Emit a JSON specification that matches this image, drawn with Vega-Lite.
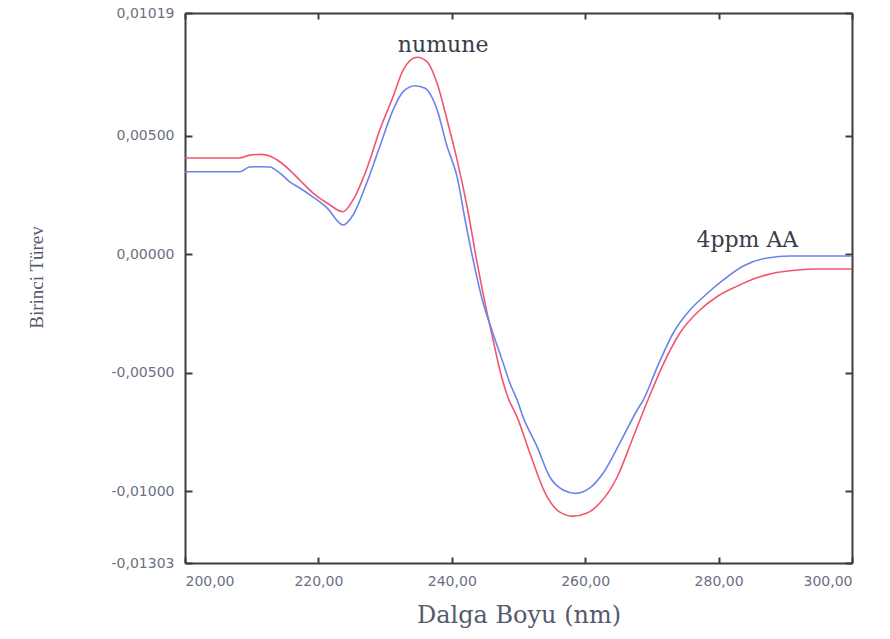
{
  "$schema": "https://vega.github.io/schema/vega-lite/v6.json",
  "width": 667,
  "height": 550,
  "autosize": {"type": "none"},
  "padding": {"left": 185, "top": 13, "right": 38, "bottom": 76},
  "background": "white",
  "config": {
    "view": {"stroke": null},
    "axis": {
      "grid": false,
      "domainColor": "#3d3d3d",
      "domainWidth": 2,
      "tickColor": "#3d3d3d",
      "tickWidth": 2,
      "labelFont": "DejaVu Sans",
      "labelFontSize": 14,
      "labelColor": "#6b7082",
      "titleFont": "DejaVu Serif",
      "titleFontWeight": "normal",
      "titleColor": "#555a6c"
    }
  },
  "datasets": {
    "spectra": [
      {"nm": 200.0, "deriv": 0.00407, "sample": "numune"},
      {"nm": 208.2, "deriv": 0.00407, "sample": "numune"},
      {"nm": 209.7, "deriv": 0.00419, "sample": "numune"},
      {"nm": 211.5, "deriv": 0.00422, "sample": "numune"},
      {"nm": 212.7, "deriv": 0.00415, "sample": "numune"},
      {"nm": 214.2, "deriv": 0.00391, "sample": "numune"},
      {"nm": 215.7, "deriv": 0.00356, "sample": "numune"},
      {"nm": 217.2, "deriv": 0.00314, "sample": "numune"},
      {"nm": 219.2, "deriv": 0.00259, "sample": "numune"},
      {"nm": 221.3, "deriv": 0.00217, "sample": "numune"},
      {"nm": 223.7, "deriv": 0.0018, "sample": "numune"},
      {"nm": 225.2, "deriv": 0.0023, "sample": "numune"},
      {"nm": 227.3, "deriv": 0.00365, "sample": "numune"},
      {"nm": 229.2, "deriv": 0.00525, "sample": "numune"},
      {"nm": 231.2, "deriv": 0.00666, "sample": "numune"},
      {"nm": 232.7, "deriv": 0.00778, "sample": "numune"},
      {"nm": 234.8, "deriv": 0.00832, "sample": "numune"},
      {"nm": 236.3, "deriv": 0.00813, "sample": "numune"},
      {"nm": 237.8, "deriv": 0.00722, "sample": "numune"},
      {"nm": 239.3, "deriv": 0.00567, "sample": "numune"},
      {"nm": 240.8, "deriv": 0.00398, "sample": "numune"},
      {"nm": 242.3, "deriv": 0.002, "sample": "numune"},
      {"nm": 243.8, "deriv": -0.00036, "sample": "numune"},
      {"nm": 245.3, "deriv": -0.00248, "sample": "numune"},
      {"nm": 246.2, "deriv": -0.00362, "sample": "numune"},
      {"nm": 247.2, "deriv": -0.00488, "sample": "numune"},
      {"nm": 248.4, "deriv": -0.00602, "sample": "numune"},
      {"nm": 249.8, "deriv": -0.00687, "sample": "numune"},
      {"nm": 251.7, "deriv": -0.00839, "sample": "numune"},
      {"nm": 254.3, "deriv": -0.01024, "sample": "numune"},
      {"nm": 256.2, "deriv": -0.01088, "sample": "numune"},
      {"nm": 258.2, "deriv": -0.01105, "sample": "numune"},
      {"nm": 260.3, "deriv": -0.01092, "sample": "numune"},
      {"nm": 262.2, "deriv": -0.0105, "sample": "numune"},
      {"nm": 264.8, "deriv": -0.0094, "sample": "numune"},
      {"nm": 267.2, "deriv": -0.00771, "sample": "numune"},
      {"nm": 269.4, "deriv": -0.00615, "sample": "numune"},
      {"nm": 271.5, "deriv": -0.00476, "sample": "numune"},
      {"nm": 274.2, "deriv": -0.00332, "sample": "numune"},
      {"nm": 277.2, "deriv": -0.00235, "sample": "numune"},
      {"nm": 279.8, "deriv": -0.00178, "sample": "numune"},
      {"nm": 282.8, "deriv": -0.00134, "sample": "numune"},
      {"nm": 285.2, "deriv": -0.00104, "sample": "numune"},
      {"nm": 288.2, "deriv": -0.0008, "sample": "numune"},
      {"nm": 291.8, "deriv": -0.00066, "sample": "numune"},
      {"nm": 295.0, "deriv": -0.00062, "sample": "numune"},
      {"nm": 300.0, "deriv": -0.00062, "sample": "numune"},

      {"nm": 200.0, "deriv": 0.00349, "sample": "4ppm AA"},
      {"nm": 208.2, "deriv": 0.00349, "sample": "4ppm AA"},
      {"nm": 209.7, "deriv": 0.00369, "sample": "4ppm AA"},
      {"nm": 211.5, "deriv": 0.0037, "sample": "4ppm AA"},
      {"nm": 212.7, "deriv": 0.00369, "sample": "4ppm AA"},
      {"nm": 214.2, "deriv": 0.00344, "sample": "4ppm AA"},
      {"nm": 215.7, "deriv": 0.00306, "sample": "4ppm AA"},
      {"nm": 217.2, "deriv": 0.0028, "sample": "4ppm AA"},
      {"nm": 219.2, "deriv": 0.00242, "sample": "4ppm AA"},
      {"nm": 221.3, "deriv": 0.00196, "sample": "4ppm AA"},
      {"nm": 223.7, "deriv": 0.00124, "sample": "4ppm AA"},
      {"nm": 225.2, "deriv": 0.00166, "sample": "4ppm AA"},
      {"nm": 227.3, "deriv": 0.00306, "sample": "4ppm AA"},
      {"nm": 229.2, "deriv": 0.00455, "sample": "4ppm AA"},
      {"nm": 231.2, "deriv": 0.0061, "sample": "4ppm AA"},
      {"nm": 232.7, "deriv": 0.00687, "sample": "4ppm AA"},
      {"nm": 234.5, "deriv": 0.00712, "sample": "4ppm AA"},
      {"nm": 236.0, "deriv": 0.00701, "sample": "4ppm AA"},
      {"nm": 237.8, "deriv": 0.0061, "sample": "4ppm AA"},
      {"nm": 239.3, "deriv": 0.00455, "sample": "4ppm AA"},
      {"nm": 240.8, "deriv": 0.00327, "sample": "4ppm AA"},
      {"nm": 242.0, "deriv": 0.00145, "sample": "4ppm AA"},
      {"nm": 243.2, "deriv": -0.00024, "sample": "4ppm AA"},
      {"nm": 244.7, "deriv": -0.00205, "sample": "4ppm AA"},
      {"nm": 246.0, "deriv": -0.00319, "sample": "4ppm AA"},
      {"nm": 247.7, "deriv": -0.00459, "sample": "4ppm AA"},
      {"nm": 248.7, "deriv": -0.00543, "sample": "4ppm AA"},
      {"nm": 249.8, "deriv": -0.00615, "sample": "4ppm AA"},
      {"nm": 250.7, "deriv": -0.00687, "sample": "4ppm AA"},
      {"nm": 252.8, "deriv": -0.00813, "sample": "4ppm AA"},
      {"nm": 254.7, "deriv": -0.0094, "sample": "4ppm AA"},
      {"nm": 256.7, "deriv": -0.00995, "sample": "4ppm AA"},
      {"nm": 258.5, "deriv": -0.01009, "sample": "4ppm AA"},
      {"nm": 260.7, "deriv": -0.00986, "sample": "4ppm AA"},
      {"nm": 262.7, "deriv": -0.00923, "sample": "4ppm AA"},
      {"nm": 265.2, "deriv": -0.00796, "sample": "4ppm AA"},
      {"nm": 267.8, "deriv": -0.00657, "sample": "4ppm AA"},
      {"nm": 268.7, "deriv": -0.00615, "sample": "4ppm AA"},
      {"nm": 270.8, "deriv": -0.00476, "sample": "4ppm AA"},
      {"nm": 273.2, "deriv": -0.00332, "sample": "4ppm AA"},
      {"nm": 275.7, "deriv": -0.00235, "sample": "4ppm AA"},
      {"nm": 277.7, "deriv": -0.0018, "sample": "4ppm AA"},
      {"nm": 280.7, "deriv": -0.00108, "sample": "4ppm AA"},
      {"nm": 283.7, "deriv": -0.00049, "sample": "4ppm AA"},
      {"nm": 287.3, "deriv": -0.00015, "sample": "4ppm AA"},
      {"nm": 290.7, "deriv": -0.00007, "sample": "4ppm AA"},
      {"nm": 300.0, "deriv": -0.00007, "sample": "4ppm AA"}
    ],
    "labels": [
      {"nm": 238.7, "deriv": 0.00884, "text": "numune"},
      {"nm": 284.3, "deriv": 0.00061, "text": "4ppm AA"}
    ]
  },
  "resolve": {"axis": {"x": "independent", "y": "independent"}},
  "layer": [
    {
      "data": {"name": "spectra"},
      "mark": {"type": "line", "strokeWidth": 1.6, "interpolate": "monotone", "clip": true},
      "encoding": {
        "x": {
          "field": "nm", "type": "quantitative",
          "scale": {"domain": [200, 300], "nice": false, "zero": false},
          "axis": {
            "orient": "bottom",
            "values": [200, 220, 240, 260, 280, 300],
            "format": ".2f",
            "labelExpr": "replace(replace(datum.label, '.', ','), '\u2212', '-')",
            "tickSize": -6,
            "labelPadding": 17,
            "title": "Dalga Boyu (nm)",
            "titleFontSize": 24,
            "titleY": 52,
            "titleBaseline": "middle"
          }
        },
        "y": {
          "field": "deriv", "type": "quantitative",
          "scale": {"domain": [-0.01303, 0.01019], "nice": false, "zero": false},
          "axis": {
            "orient": "left",
            "values": [0.01019, 0.005, 0, -0.005, -0.01, -0.01303],
            "format": ".5f",
            "labelExpr": "replace(replace(datum.label, '.', ','), '\u2212', '-')",
            "tickSize": -7,
            "labelPadding": 18,
            "title": "Birinci Türev",
            "titleFont": "Liberation Serif",
            "titleFontSize": 19,
            "titleAngle": -90,
            "titleX": -149,
            "titleY": 264,
            "titleAlign": "center",
            "titleBaseline": "middle"
          }
        },
        "color": {
          "field": "sample", "type": "nominal",
          "scale": {"domain": ["numune", "4ppm AA"], "range": ["#f2566e", "#6c84ea"]},
          "legend": null
        }
      }
    },
    {
      "data": {"name": "labels"},
      "mark": {"type": "text", "font": "DejaVu Serif", "fontSize": 22, "color": "#3a3d48", "align": "center", "baseline": "middle"},
      "encoding": {
        "x": {
          "field": "nm", "type": "quantitative",
          "scale": {"domain": [200, 300], "nice": false, "zero": false},
          "axis": {"orient": "top", "values": [200, 220, 240, 260, 280, 300], "labels": false, "tickSize": -6, "title": null}
        },
        "y": {
          "field": "deriv", "type": "quantitative",
          "scale": {"domain": [-0.01303, 0.01019], "nice": false, "zero": false},
          "axis": {"orient": "right", "values": [0.01019, 0.005, 0, -0.005, -0.01, -0.01303], "labels": false, "tickSize": -7, "title": null}
        },
        "text": {"field": "text"}
      }
    }
  ]
}
